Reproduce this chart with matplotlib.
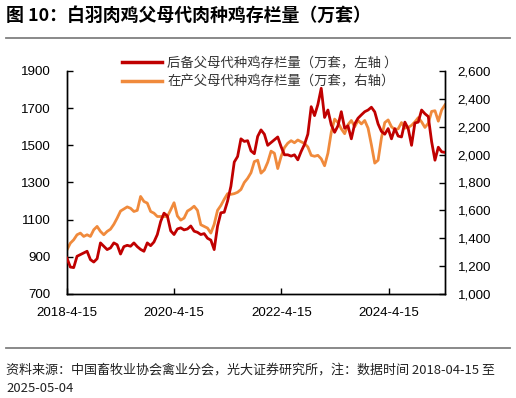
import matplotlib
matplotlib.use("Agg")
import matplotlib.pyplot as plt
import matplotlib.ticker as mticker
from matplotlib.lines import Line2D
import pandas as pd

# ---------------- data ----------------
start_date = "2018-04-15"
end_date = "2025-05-04"

reserve_stock = [  # 后备父母代种鸡存栏量（万套，左轴）
    893, 845, 842, 903, 912, 921, 930, 885, 872, 890,
    975, 957, 939, 948, 975, 965, 915, 955, 962, 957,
    975, 955, 940, 930, 975, 960, 980, 1020, 1090, 1135,
    1120, 1040, 1020, 1050, 1056, 1045, 1050, 1066, 1038, 1032,
    1020, 1025, 1000, 990, 939, 1065, 1137, 1140, 1200, 1280,
    1410, 1440, 1535, 1521, 1525, 1470, 1455, 1548, 1583,
    1560, 1500, 1515, 1530, 1545, 1493, 1449, 1449, 1442, 1449,
    1422, 1467, 1505, 1560, 1708, 1660, 1720, 1807, 1650, 1690,
    1610, 1570, 1605, 1681, 1592, 1605, 1535, 1615, 1646, 1664,
    1681, 1690, 1705, 1680, 1615, 1575, 1560, 1590, 1535, 1590,
    1550, 1545, 1625, 1590, 1500, 1620, 1625, 1690, 1670, 1655,
    1520, 1420, 1490, 1465, 1462,
]

producing_stock = [  # 在产父母代种鸡存栏量（万套，右轴）
    1317, 1365, 1389, 1425, 1437, 1413, 1425, 1413, 1461, 1485,
    1449, 1425, 1449, 1465, 1500, 1545, 1595, 1610, 1625, 1615,
    1592, 1600, 1700, 1664, 1652, 1592, 1580, 1556, 1556, 1556,
    1556, 1604, 1655, 1560, 1530, 1545, 1595, 1610, 1630, 1600,
    1497, 1485, 1473, 1437, 1500, 1600, 1635, 1680, 1720, 1715,
    1720, 1730, 1750, 1800, 1830, 1870, 1950, 1960, 1867,
    1890, 1945, 2025, 2010, 1900, 1986, 2050, 2082, 2100, 2085,
    2105, 2092, 2080, 2055, 1995, 1988, 1995, 1970, 1920, 2010,
    2160, 2255, 2230, 2185, 2150, 2215, 2245, 2200, 2245, 2220,
    2245, 2190, 2070, 1939, 1960, 2120, 2230, 2249, 2200, 2180,
    2185, 2230, 2190, 2195, 2210, 2235, 2265, 2235, 2195, 2225,
    2310, 2315, 2240, 2320, 2357,
]

xtick_dates = ["2018-04-15", "2020-04-15", "2022-04-15", "2024-04-15"]
xtick_labels = ["2018-4-15", "2020-4-15", "2022-4-15", "2024-4-15"]
left_ticks = [700, 900, 1100, 1300, 1500, 1700, 1900]
right_ticks = [1000, 1200, 1400, 1600, 1800, 2000, 2200, 2400, 2600]

title_text = "图 10：白羽肉鸡父母代肉种鸡存栏量（万套）"
legend_labels = ["后备父母代种鸡存栏量（万套，左轴 ）", "在产父母代种鸡存栏量（万套，右轴）"]
footer_lines = ["资料来源：中国畜牧业协会禽业分会，光大证券研究所，注：数据时间 2018-04-15 至",
                "2025-05-04"]

# ---------------- style ----------------
CJK = ["Noto Sans CJK SC", "DejaVu Sans"]
NUM = ["Liberation Sans", "DejaVu Sans"]
RED = "#C00000"
ORANGE = "#F08A3C"

W, H = 516, 398
fig = plt.figure(figsize=(W / 100, H / 100), dpi=100)

def fx(px):
    return px / W

def fy(py):
    return 1 - py / H

dates = pd.date_range(start_date, end_date, periods=len(reserve_stock))

ax = fig.add_axes([fx(67), fy(294), fx(445) - fx(67), fy(71) - fy(294)])
ax2 = ax.twinx()

ax.plot(dates, reserve_stock, color=RED, lw=2.0, solid_joinstyle="round", zorder=3)
ax2.plot(dates, producing_stock, color=ORANGE, lw=2.0, solid_joinstyle="round", zorder=2)
ax.set_zorder(ax2.get_zorder() + 1)
ax.patch.set_visible(False)

ax.set_xlim(pd.Timestamp(start_date), pd.Timestamp(end_date))
ax.set_ylim(700, 1900)
ax2.set_ylim(1000, 2600)
ax.set_yticks(left_ticks)
ax2.set_yticks(right_ticks)
ax2.yaxis.set_major_formatter(mticker.FuncFormatter(lambda v, p: f"{int(v):,}"))
ax.set_xticks(pd.to_datetime(xtick_dates))
ax.set_xticklabels(xtick_labels)

for a in (ax, ax2):
    a.spines["top"].set_visible(False)
    for s in ("left", "right", "bottom"):
        a.spines[s].set_linewidth(1.0)
        a.spines[s].set_color("black")
    a.tick_params(direction="in", length=4, width=1.0, labelsize=9.6, colors="black")
    for lab in a.get_xticklabels() + a.get_yticklabels():
        lab.set_family(NUM)
ax.tick_params(axis="y", pad=12)
ax2.tick_params(axis="y", pad=9)
ax.tick_params(axis="x", pad=9)

# legend
handles = [Line2D([], [], color=RED, lw=2.5), Line2D([], [], color=ORANGE, lw=2.5)]
leg = fig.legend(handles, legend_labels, loc="upper left",
                 bbox_to_anchor=(fx(122), fy(56)), frameon=False,
                 prop={"family": CJK, "size": 9.6}, handlelength=3.0,
                 handletextpad=0.4, labelspacing=0.35, borderpad=0, borderaxespad=0)
for t in leg.get_texts():
    t.set_color("#333333")

# title & separators & footer
fig.text(fx(6), fy(16), title_text, family=CJK, fontsize=12.9, fontweight="bold",
         va="center", ha="left", color="black")
fig.add_artist(Line2D([fx(6), fx(510)], [fy(37.5), fy(37.5)], color="#808080", lw=1.3))
fig.add_artist(Line2D([fx(6), fx(510)], [fy(348), fy(348)], color="#808080", lw=1.3))
fig.text(fx(6), fy(370), footer_lines[0], family=CJK, fontsize=9.4, va="center", ha="left",
         color="#222222")
fig.text(fx(6), fy(388), footer_lines[1], family=CJK, fontsize=9.4, va="center", ha="left",
         color="#222222")

fig.savefig("out.png", dpi=100)
